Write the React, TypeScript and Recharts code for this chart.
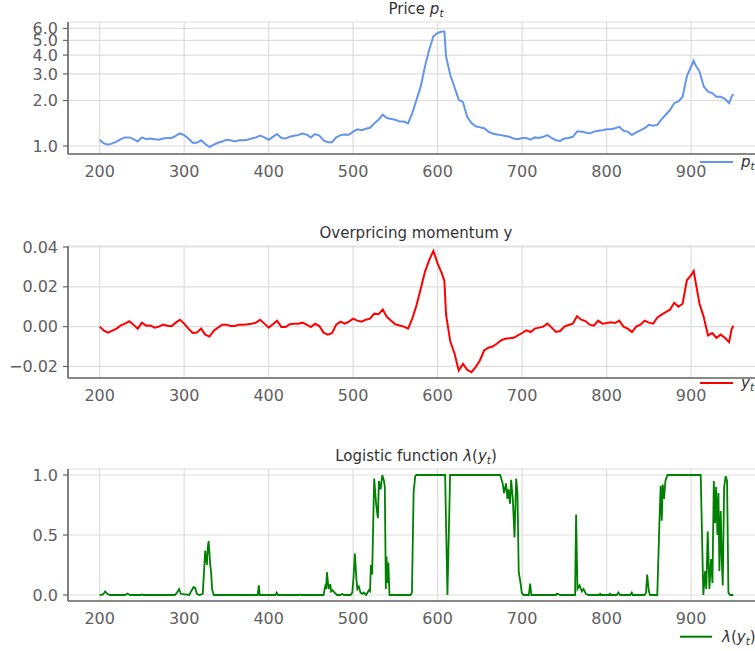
import React from "react";
import { LineChart, Line, XAxis, YAxis, CartesianGrid } from "recharts";

const timeT = [200,205,210,215,220,225,230,235,240,245,250,255,260,265,270,275,280,285,290,295,300,305,310,315,320,325,330,335,340,345,350,355,360,365,370,375,380,385,390,395,400,405,410,415,420,425,430,435,440,445,450,455,460,465,470,475,480,485,490,495,500,505,510,515,520,525,530,535,540,545,550,555,560,565,570,575,580,585,590,595,600,605,608,610,615,620,625,630,635,640,645,650,655,660,665,670,675,680,685,690,695,700,705,710,715,720,725,730,735,740,745,750,755,760,765,770,775,780,785,790,795,800,805,810,815,820,825,830,835,840,845,850,855,860,865,870,875,880,885,890,895,900,903,905,910,915,920,925,930,935,940,945,948,950];

const priceV = [1.10,1.04,1.02,1.04,1.07,1.11,1.14,1.14,1.11,1.07,1.14,1.11,1.12,1.11,1.10,1.12,1.13,1.13,1.165,1.21,1.18,1.12,1.05,1.05,1.09,1.03,0.985,1.02,1.05,1.07,1.10,1.09,1.07,1.09,1.09,1.10,1.12,1.14,1.17,1.14,1.10,1.15,1.20,1.13,1.12,1.15,1.17,1.18,1.21,1.19,1.14,1.20,1.17,1.09,1.06,1.06,1.14,1.18,1.19,1.185,1.245,1.29,1.27,1.30,1.32,1.41,1.49,1.61,1.53,1.51,1.49,1.45,1.45,1.41,1.65,2.02,2.48,3.36,4.34,5.32,5.6,5.72,5.72,3.9,2.95,2.45,2.02,1.95,1.56,1.42,1.35,1.33,1.31,1.245,1.21,1.19,1.18,1.165,1.15,1.12,1.11,1.13,1.13,1.10,1.14,1.13,1.15,1.18,1.13,1.09,1.08,1.12,1.13,1.15,1.245,1.245,1.23,1.21,1.245,1.26,1.27,1.29,1.29,1.31,1.34,1.26,1.245,1.18,1.23,1.27,1.31,1.38,1.36,1.38,1.50,1.61,1.73,1.92,1.97,2.12,2.89,3.36,3.68,3.45,3.11,2.48,2.29,2.24,2.12,2.12,2.05,1.92,2.12,2.21];

const momentumV = [0.000,-0.002,-0.003,-0.002,-0.001,0.0006,0.0015,0.0027,0.001,-0.001,0.002,0.0005,0.0006,-0.0005,0.0,0.001,0.0004,0.0002,0.002,0.0035,0.0015,-0.001,-0.0032,-0.003,-0.001,-0.004,-0.005,-0.002,-0.0005,0.001,0.001,0.0003,0.0003,0.001,0.001,0.0012,0.0015,0.002,0.0035,0.0015,-0.0005,0.0012,0.003,-0.0002,-0.0002,0.0012,0.0015,0.0015,0.002,0.001,-0.0002,0.0015,0.0003,-0.003,-0.004,-0.0033,0.001,0.0025,0.0015,0.0025,0.004,0.003,0.0025,0.0035,0.004,0.0065,0.0062,0.0086,0.0048,0.003,0.0012,0.0006,0.0,-0.001,0.004,0.0107,0.019,0.0275,0.0334,0.038,0.0317,0.0267,0.023,0.006,-0.0075,-0.0135,-0.022,-0.0187,-0.0217,-0.0229,-0.0203,-0.017,-0.012,-0.0106,-0.010,-0.0086,-0.0069,-0.0061,-0.0058,-0.0056,-0.0044,-0.0032,-0.0019,-0.0027,-0.001,-0.0005,0.0,0.0015,-0.0005,-0.0027,-0.0022,0.0,0.0008,0.0015,0.0052,0.0035,0.0028,0.001,0.0005,0.003,0.0015,0.0018,0.0022,0.0018,0.003,0.0,-0.001,-0.0027,0.0,0.001,0.003,0.002,0.0015,0.0045,0.006,0.0073,0.0085,0.012,0.010,0.0115,0.0233,0.0258,0.0279,0.0233,0.0115,0.0048,-0.0044,-0.0032,-0.0056,-0.004,-0.0056,-0.0078,-0.0012,0.0004];

const lambdaT = [200,204,206.5,209,212,230,233,236,248,250,252,289,291,294,296,306,309,311,313,315,318,322,324.9,326,326.9,328,328.9,330.9,332,333,335,387,388.4,389.5,408,409.5,411,436,437.5,439,465,466.9,468,469,470,470.9,472.9,474,475.7,478,481,485,487,489,497,499,500.5,502,504,505,506.7,508.7,511,512.6,515.4,518.6,520,521,522.5,524.9,527.3,529.3,530.5,532.5,534.5,536.5,537.5,538.7,539.5,540.5,541.7,543,568,569.6,571.6,573.5,575,608.9,611.6,614.8,674,677,678.6,681,682.6,683.8,685.7,687,689,691,693,694.5,696,697.7,699.6,701.6,708,709.5,711,740,741,743,745,762.7,763.9,765.5,768,770.7,772.7,775.5,778.6,791,792.4,794,803,804,806,812,814,816,828,829.8,831,845,846.7,848,850,851.5,860,862.5,864,865.3,866.5,868,869.6,872,911.4,914.5,916.6,918,919.7,921.7,923.7,925.3,926.9,928.4,929.6,931.2,932.4,933.5,935.1,936.3,937.5,939.1,941,942.6,944.2,946.2,950];

const lambdaV = [0,0.005,0.03,0.01,0,0,0.012,0,0,0.004,0,0,0.015,0.05,0.01,0,0.04,0.065,0.06,0.01,0,0.01,0.37,0.3,0.25,0.4,0.45,0.25,0.18,0.05,0,0,0.08,0,0,0.02,0,0,0.005,0,0,0.07,0.05,0.19,0.12,0.05,0.09,0.03,0.04,0.02,0,0,0.01,0,0,0.02,0.15,0.345,0.12,0.05,0.07,0.02,0.01,0.02,0,0.04,0.03,0.25,0.17,0.97,0.75,0.64,0.95,0.88,1.0,0.95,0.9,0.05,0.32,0.1,0.27,0,0,0.02,0.86,0.99,1.0,1.0,0,1.0,1.0,0.93,0.85,0.93,0.8,0.88,0.76,0.96,0.8,0.48,0.97,0.85,0.19,0.12,0.02,0,0,0.095,0,0,0.01,0.008,0,0,0.67,0.05,0.08,0.03,0.05,0.01,0,0,0.01,0,0,0.01,0,0,0.02,0,0,0.02,0,0,0.02,0.17,0.03,0,0,0.6,0.91,0.62,0.92,0.8,0.95,1.0,1.0,0,0.2,0.05,0.53,0.05,0.3,0.1,0.95,0.6,0.9,0.5,0.85,0.2,0.7,0.3,0.08,0.9,0.99,0.95,0.02,0,0];

const xTicks = [200, 300, 400, 500, 600, 700, 800, 900];
const priceTicks = [1, 2, 3, 4, 5, 6];
const momentumTicks = [-0.02, 0, 0.02, 0.04];
const lambdaTicks = [0, 0.5, 1];

const seriesData = timeT.map((t, i) => ({ t, p: priceV[i], y: momentumV[i] }));
const lambdaData = lambdaT.map((t, i) => ({ t, l: lambdaV[i] }));

const FONT = "DejaVu Sans";
const SPINE = "#666666";
const GRID = "#dddddd";
const TICKC = "#606060";
const W = 800;
const H = 200;
const MARGIN = { top: 22, right: 35, bottom: 16, left: 0 };
const XDOM: [number, number] = [162.5, 987.5];

const tickStyle = { fill: TICKC, fontSize: 16, fontFamily: FONT };

function fmt(dec: number) {
  return (v: number) => {
    const s = Math.abs(v).toFixed(dec);
    return v < -1e-12 ? "\u2212" + s : s;
  };
}

function Panel(props: {
  data: any[];
  dataKey: string;
  color: string;
  width: number;
  yDomain: [number, number];
  yTicks: number[];
  yFmt: (v: number) => string;
  log?: boolean;
}) {
  const { data, dataKey, color, width, yDomain, yTicks, yFmt, log } = props;
  return (
    <LineChart width={W} height={H} data={data} margin={MARGIN}>
      <CartesianGrid stroke={GRID} strokeWidth={1.2} />
      <XAxis
        dataKey="t"
        type="number"
        domain={XDOM}
        ticks={xTicks}
        interval={0}
        allowDataOverflow
        tick={tickStyle}
        tickLine={false}
        tickSize={6}
        tickMargin={6}
        height={30}
        axisLine={{ stroke: SPINE, strokeWidth: 1.6 }}
      />
      <XAxis
        xAxisId="top"
        orientation="top"
        dataKey="t"
        type="number"
        domain={XDOM}
        allowDataOverflow
        tick={false}
        tickLine={false}
        height={0}
        axisLine={{ stroke: SPINE, strokeWidth: 1.6 }}
      />
      <YAxis
        type="number"
        scale={log ? "log" : "auto"}
        domain={yDomain}
        ticks={yTicks}
        interval={0}
        allowDataOverflow
        tickFormatter={yFmt}
        tick={tickStyle}
        tickLine={{ stroke: SPINE, strokeWidth: 1.2 }}
        tickSize={5}
        tickMargin={5}
        width={68}
        axisLine={{ stroke: SPINE, strokeWidth: 1.6 }}
      />
      <Line
        type="linear"
        dataKey={dataKey}
        stroke={color}
        strokeWidth={width}
        dot={false}
        activeDot={false}
        isAnimationActive={false}
      />
    </LineChart>
  );
}

export default function App() {
  return (
    <div style={{ position: "absolute", left: 0, top: 0, width: 755, height: 651, overflow: "hidden", background: "#fff" }}>
      <div style={{ position: "absolute", left: 0, top: 0 }}>
        <Panel data={seriesData} dataKey="p" color="#6495ED" width={2} yDomain={[0.885, 6.62]} yTicks={priceTicks} yFmt={fmt(1)} log />
      </div>
      <div style={{ position: "absolute", left: 0, top: 223.7 }}>
        <Panel data={seriesData} dataKey="y" color="#ff0000" width={2} yDomain={[-0.0258, 0.0405]} yTicks={momentumTicks} yFmt={fmt(2)} />
      </div>
      <div style={{ position: "absolute", left: 0, top: 447 }}>
        <Panel data={lambdaData} dataKey="l" color="#008000" width={1.8} yDomain={[-0.05, 1.05]} yTicks={lambdaTicks} yFmt={fmt(1)} />
      </div>
      <svg width={755} height={651} style={{ position: "absolute", left: 0, top: 0, pointerEvents: "none" }} fontFamily={FONT}>
        <text x={416} y={13.5} textAnchor="middle" fontSize={15} fill="#333">
          Price <tspan fontStyle="italic">p</tspan>
          <tspan fontStyle="italic" fontSize={10.5} dy={3}>t</tspan>
        </text>
        <text x={416} y={238} textAnchor="middle" fontSize={15} fill="#333">
          Overpricing momentum y
        </text>
        <text x={416} y={460.5} textAnchor="middle" fontSize={15} fill="#333">
          Logistic function <tspan fontStyle="italic">λ</tspan>(<tspan fontStyle="italic">y</tspan>
          <tspan fontStyle="italic" fontSize={10.5} dy={3}>t</tspan>
          <tspan dy={-3}>)</tspan>
        </text>

        <line x1={700} y1={162} x2={733} y2={162} stroke="#6495ED" strokeWidth={2} />
        <text x={741} y={167} fontSize={15} fill="#333">
          <tspan fontStyle="italic">p</tspan>
          <tspan fontStyle="italic" fontSize={10.5} dy={3}>t</tspan>
        </text>

        <line x1={700} y1={383} x2={733} y2={383} stroke="#ff0000" strokeWidth={2} />
        <text x={741} y={388} fontSize={15} fill="#333">
          <tspan fontStyle="italic">y</tspan>
          <tspan fontStyle="italic" fontSize={10.5} dy={3}>t</tspan>
        </text>

        <line x1={680} y1={636.7} x2={712} y2={636.7} stroke="#008000" strokeWidth={2} />
        <text x={722} y={641.5} fontSize={15} fill="#333">
          <tspan fontStyle="italic">λ</tspan>(<tspan fontStyle="italic">y</tspan>
          <tspan fontStyle="italic" fontSize={10.5} dy={3}>t</tspan>
          <tspan dy={-3}>)</tspan>
        </text>
      </svg>
    </div>
  );
}
